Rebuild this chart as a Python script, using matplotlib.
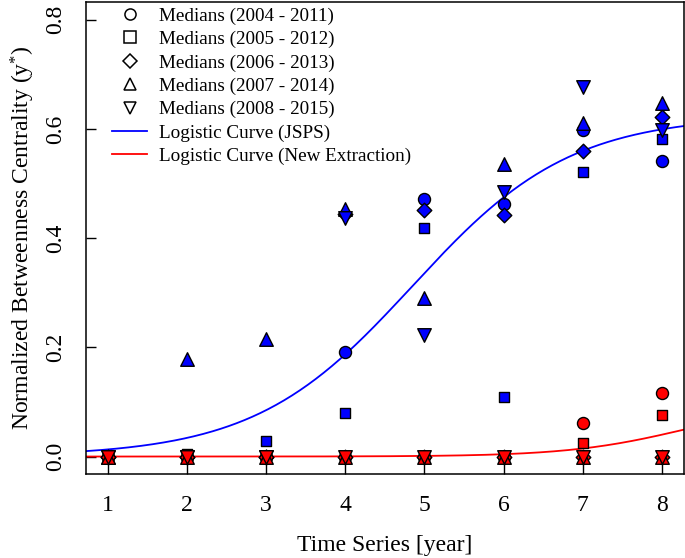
import matplotlib
matplotlib.use('Agg')
import matplotlib.pyplot as plt
from matplotlib.lines import Line2D
import numpy as np

plt.rcParams['font.family'] = ['Liberation Serif', 'DejaVu Serif']
plt.rcParams['mathtext.fontset'] = 'custom'
plt.rcParams['mathtext.rm'] = 'Liberation Serif'
plt.rcParams['mathtext.it'] = 'Liberation Serif:italic'

# time series positions
years = [1, 2, 3, 4, 5, 6, 7, 8]
period_labels = ['Medians (2004 - 2011)', 'Medians (2005 - 2012)', 'Medians (2006 - 2013)',
                 'Medians (2007 - 2014)', 'Medians (2008 - 2015)']
period_markers = ['o', 's', 'D', '^', 'v']

# medians, JSPS data (blue)
jsps_2004 = [0, 0, 0, 0.191, 0.471, 0.462, 0.599, 0.541]
jsps_2005 = [0, 0.005, 0.029, 0.079, 0.418, 0.109, 0.522, 0.581]
jsps_2006 = [0, 0, 0, 0.445, 0.451, 0.443, 0.560, 0.621]
jsps_2007 = [0, 0.179, 0.215, 0.453, 0.290, 0.536, 0.611, 0.647]
jsps_2008 = [0, 0, 0, 0.436, 0.223, 0.485, 0.676, 0.598]

# medians, new extraction (red)
new_2004 = [0, 0, 0, 0, 0, 0, 0.061, 0.116]
new_2005 = [0, 0, 0, 0, 0, 0, 0.025, 0.077]
new_2006 = [0, 0, 0, 0, 0, 0, 0, 0]
new_2007 = [0, 0, 0, 0, 0, 0, 0, 0]
new_2008 = [0, 0, 0, 0, 0, 0, 0, 0]

# fitted logistic curves: K / (1 + exp(-r (x - x0)))
jsps_K, jsps_r, jsps_x0 = 0.625, 1.0, 4.85
new_K, new_r, new_x0 = 0.10, 1.35, 8.3


def logistic(x, K, r, x0):
    return K / (1 + np.exp(-r * (x - x0)))


fig = plt.figure(figsize=(6.85, 5.58), dpi=100)
ax = fig.add_axes([0.1251, 0.1505, 0.8734, 0.8454])

xs = np.linspace(0.5, 8.5, 400)
ax.plot(xs, logistic(xs, jsps_K, jsps_r, jsps_x0), color='#0000FF', lw=1.3, zorder=2)
ax.plot(xs, logistic(xs, new_K, new_r, new_x0), color='#FF0000', lw=1.3, zorder=2)

jsps = [jsps_2004, jsps_2005, jsps_2006, jsps_2007, jsps_2008]
new = [new_2004, new_2005, new_2006, new_2007, new_2008]
sizes = {'o': 75, 's': 60, 'D': 55, '^': 95, 'v': 95}
for vals, m in zip(jsps, period_markers):
    ax.scatter(years, vals, marker=m, s=sizes[m], c='#0000FF', edgecolors='black', linewidths=1.0, zorder=3)
for vals, m in zip(new, period_markers):
    ax.scatter(years, vals, marker=m, s=sizes[m], c='#FF0000', edgecolors='black', linewidths=1.0, zorder=4)

ax.set_xlim(0.72, 8.28)
ax.set_ylim(-0.032, 0.832)
ax.set_xticks(years)
ax.set_yticks([0.0, 0.2, 0.4, 0.6, 0.8])
ax.set_yticklabels(['0.0', '0.2', '0.4', '0.6', '0.8'], rotation=90, va='center')
ax.tick_params(direction='in', length=7.2, width=1.0, labelsize=17)
ax.tick_params(axis='x', pad=15)
ax.tick_params(axis='y', pad=14)
for s in ax.spines.values():
    s.set_linewidth(1.1)

ax.set_xlabel('Time Series [year]', fontsize=17, labelpad=14)
ax.set_ylabel(r'Normalized Betweenness Centrality ($\mathrm{y}^{*}$)', fontsize=17, labelpad=6)

handles = [Line2D([], [], ls='none', marker=m, markerfacecolor='none', markeredgecolor='black',
                  markersize=8 if m != 'D' else 7, markeredgewidth=1.1) for m in period_markers]
handles += [Line2D([], [], color='#0000FF', lw=1.3), Line2D([], [], color='#FF0000', lw=1.3)]
labels = period_labels + ['Logistic Curve (JSPS)', 'Logistic Curve (New Extraction)']
ax.legend(handles, labels, loc='upper left', bbox_to_anchor=(0.025, 1.014), frameon=False,
          fontsize=13.8, handlelength=1.83, handletextpad=0.63, labelspacing=0.31, borderaxespad=0.2)

fig.savefig('out.png', dpi=100)
